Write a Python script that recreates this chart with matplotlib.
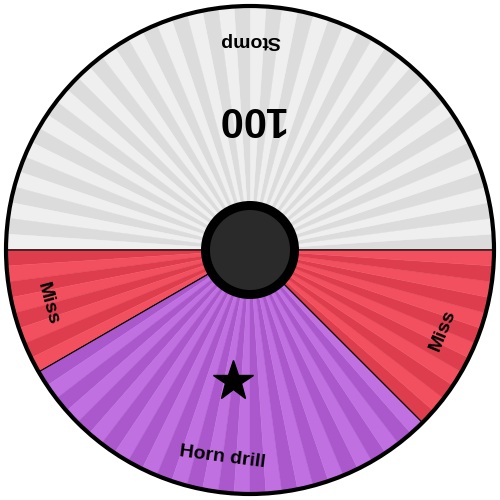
# wheel.py
# Draws a striped move wheel with a centre hub

import numpy as np
import matplotlib.pyplot as plt
from matplotlib.patches import Wedge, Circle

# wheel data (sizes in wheel units, 96 total), counterclockwise from 0 deg
labels = ["Stomp", "Miss", "Horn drill", "Miss"]
sizes = [48, 8, 28, 12]
damage = ["100", "", "", ""]
stars = [False, False, True, False]

# appearance
LIGHT = ["#efefef", "#f2505e", "#c070e0", "#f2505e"]
DARK = ["#dcdcdc", "#de3d4d", "#aa58cc", "#de3d4d"]
RADIUS = 244
STRIPE = 3.75  # degrees per stripe
LABEL_R = 209
DAMAGE_R = 132
HUB_R = 49
HUB_INNER_R = 40

plt.rcParams['font.family'] = ['Liberation Sans', 'DejaVu Sans']

fig = plt.figure(figsize=(5, 5), dpi=100)
ax = fig.add_axes([0, 0, 1, 1])
ax.set_xlim(-250, 250)
ax.set_ylim(-250, 250)
ax.set_aspect('equal')
ax.axis('off')

total = sum(sizes)
start = 0.0
for i, size in enumerate(sizes):
    span = 360.0 * size / total
    end = start + span

    # stripes, continuous round the wheel
    k0 = int(np.floor(start / STRIPE))
    k1 = int(np.ceil(end / STRIPE))
    for k in range(k0, k1):
        a = max(k * STRIPE, start)
        b = min((k + 1) * STRIPE, end)
        if b <= a:
            continue
        col = DARK[i] if k % 2 == 0 else LIGHT[i]
        ax.add_patch(Wedge((0, 0), RADIUS, a, b, facecolor=col,
                           edgecolor=col, linewidth=0.3))

    # segment outline
    ax.add_patch(Wedge((0, 0), RADIUS, start, end, facecolor='none',
                       edgecolor='black', linewidth=0.8))

    mid = np.radians(start + span / 2)
    rot = np.degrees(mid) + 90
    ax.text(LABEL_R * np.cos(mid), LABEL_R * np.sin(mid), labels[i],
            rotation=rot, rotation_mode='anchor', ha='center', va='center',
            fontsize=14, fontweight='bold', color='black')
    if damage[i]:
        ax.text(DAMAGE_R * np.cos(mid), DAMAGE_R * np.sin(mid), damage[i],
                rotation=rot, rotation_mode='anchor', ha='center',
                va='center', fontsize=30, fontweight='bold', color='black')
    if stars[i]:
        ax.plot(DAMAGE_R * np.cos(mid), DAMAGE_R * np.sin(mid), marker='*',
                markersize=30, color='black', linestyle='none')

    start = end

# rim and hub
ax.add_patch(Circle((0, 0), RADIUS, facecolor='none', edgecolor='black',
                    linewidth=3))
ax.add_patch(Circle((0, 0), HUB_R, facecolor='black', edgecolor='none'))
ax.add_patch(Circle((0, 0), HUB_INNER_R, facecolor='#2a2a2a',
                    edgecolor='none'))

fig.savefig('out.png', dpi=100)
